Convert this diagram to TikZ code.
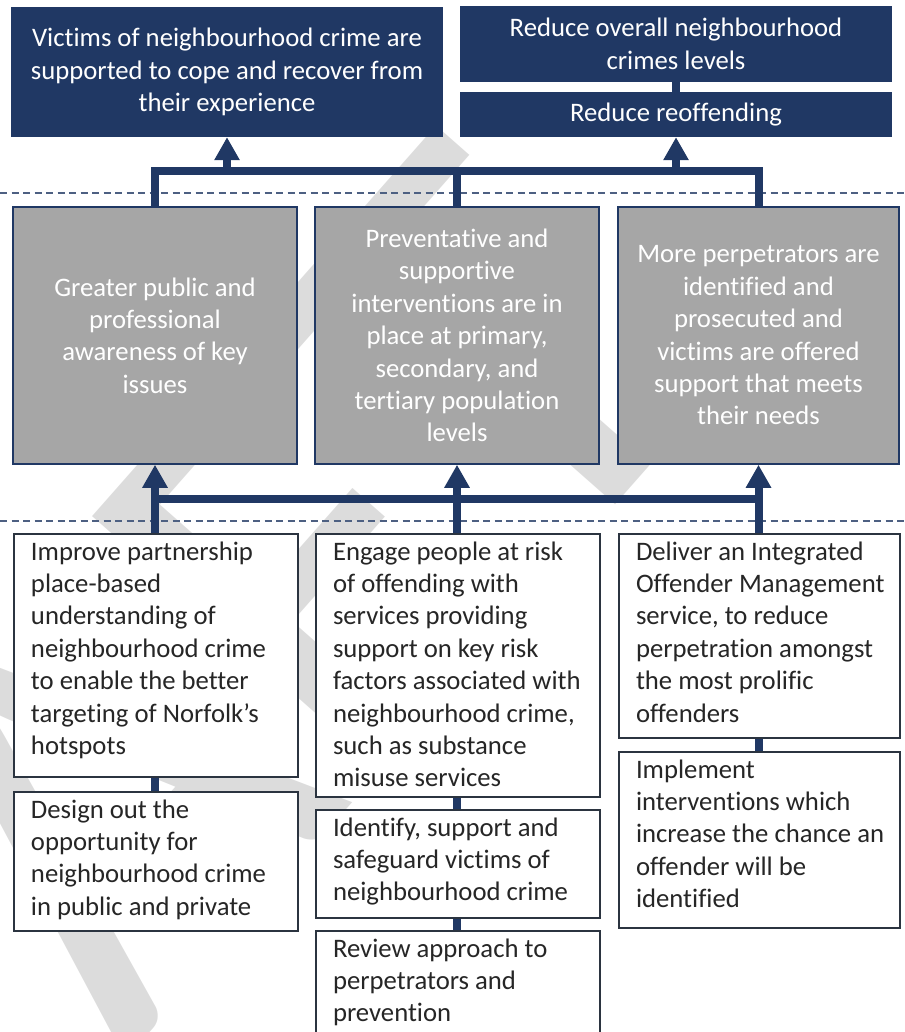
\documentclass[tikz,border=0pt]{standalone}
\usepackage{fontspec}
\setmainfont{Carlito}[Ligatures={NoCommon}]
\usetikzlibrary{arrows.meta}

\definecolor{navy}{HTML}{203864}
\definecolor{boxgrey}{HTML}{A6A6A6}
\definecolor{slate}{HTML}{2B3440}
\definecolor{bodytext}{HTML}{262626}
\definecolor{rule}{HTML}{4D6082}
\definecolor{wmark}{HTML}{DCDCDC}

% top-aligned, left-aligned text block filling a box of given width and height
\newcommand\stackbox[3]{\parbox[t][#2][t]{#1}{\leftskip=17pt\rightskip=0pt plus 1fil\relax
  \rule{0pt}{26pt}#3}}

\tikzset{
  body/.style={font=\fontsize{26.7}{32.4}\selectfont},
  outcome/.style={body, fill=navy, text=white, align=center, inner sep=0pt},
  theme/.style={body, fill=boxgrey, draw=navy, line width=1.5pt, text=white,
    align=center, inner sep=0pt, minimum width=284pt, minimum height=257pt},
  action/.style={body, fill=white, draw=slate, line width=2pt, text=bodytext, inner sep=0pt},
  conn/.style={draw=navy, line width=8pt, line join=miter},
  upconn/.style={conn, -{Triangle[width=24pt,length=23pt]}},
  dashline/.style={draw=rule, line width=1.3pt, dash pattern=on 7pt off 4.5pt},
}

\begin{document}
\begin{tikzpicture}[x=1pt,y=-1pt]
\useasboundingbox (0,0) rectangle (904,1032);
\clip (0,0) rectangle (904,1032);

% watermark
\node[rotate=48.6, anchor=base east, inner sep=0pt, text=wmark,
  font=\fontsize{600}{600}\selectfont] (wm) at (730,375) {DRAFT};

% outcomes
\node[outcome, minimum width=432pt, minimum height=130pt] (tA) at (227,72)
  {Victims of neighbourhood crime are\\supported to cope and recover from\\their experience};
\node[outcome, minimum width=432pt, minimum height=76pt] (tB) at (676,44)
  {Reduce overall neighbourhood\\crimes levels};
\node[outcome, minimum width=432pt, minimum height=45pt] (tC) at (676,114.5)
  {Reduce reoffending};

% themes
\node[theme] (gL) at (155,335.5)
  {Greater public and\\professional\\awareness of key\\issues};
\node[theme] (gM) at (457,335.5)
  {Preventative and\\supportive\\interventions are in\\place at primary,\\secondary, and\\tertiary population\\levels};
\node[theme, minimum width=281pt] (gR) at (758.5,335.5)
  {More perpetrators are\\identified and\\prosecuted and\\victims are offered\\support that meets\\their needs};

% actions
\node[action, anchor=north west] (aL1) at (13,533) {\stackbox{284pt}{243pt}{Improve partnership\\place-based\\understanding of\\neighbourhood crime\\to enable the better\\targeting of Norfolk’s\\hotspots}};
\node[action, anchor=north west] (aL2) at (13,791) {\stackbox{284pt}{139pt}{Design out the\\opportunity for\\neighbourhood crime\\in public and private}};
\node[action, anchor=north west] (aM1) at (315,533) {\stackbox{284pt}{263pt}{Engage people at risk\\of offending with\\services providing\\support on key risk\\factors associated with\\neighbourhood crime,\\such as substance\\misuse services}};
\node[action, anchor=north west] (aM2) at (315,809) {\stackbox{284pt}{108pt}{Identify, support and\\safeguard victims of\\neighbourhood crime}};
\node[action, anchor=north west] (aM3) at (315,930) {\stackbox{284pt}{118pt}{Review approach to\\perpetrators and\\prevention}};
\node[action, anchor=north west] (aR1) at (618,533) {\stackbox{281pt}{204pt}{Deliver an Integrated\\Offender Management\\service, to reduce\\perpetration amongst\\the most prolific\\offenders}};
\node[action, anchor=north west] (aR2) at (618,751) {\stackbox{281pt}{176pt}{Implement\\interventions which\\increase the chance an\\offender will be\\identified}};

% tier separators
\coordinate (s1a) at (0,193);   \coordinate (s1b) at (904,193);
\coordinate (s2a) at (0,521);   \coordinate (s2b) at (904,521);
\draw[dashline] (s1a) -- (s1b);
\draw[dashline] (s2a) -- (s2b);

% themes up to outcomes
\coordinate (ht) at (0,171);
\draw[conn] (gL.north) -- (gL.north |- ht) -- (gR.north |- ht) -- (gR.north);
\draw[conn] (gM.north) -- (gM.north |- ht);
\draw[upconn] (tA.south |- ht) -- (tA.south);
\draw[upconn] (tC.south |- ht) -- (tC.south);
\draw[conn] (tC.north) -- (tB.south);

% actions up to themes
\coordinate (hb) at (0,499);
\draw[conn] (gL.south |- hb) -- (gR.south |- hb);
\draw[upconn] (aL1.north -| gL.south) -- (gL.south);
\draw[upconn] (aM1.north -| gM.south) -- (gM.south);
\draw[upconn] (aR1.north -| gR.south) -- (gR.south);

% links within action stacks
\draw[conn] (aL1.south -| gL.south) -- (aL2.north -| gL.south);
\draw[conn] (aM1.south -| gM.south) -- (aM2.north -| gM.south);
\draw[conn] (aM2.south -| gM.south) -- (aM3.north -| gM.south);
\draw[conn] (aR1.south -| gR.south) -- (aR2.north -| gR.south);
\end{tikzpicture}
\end{document}
